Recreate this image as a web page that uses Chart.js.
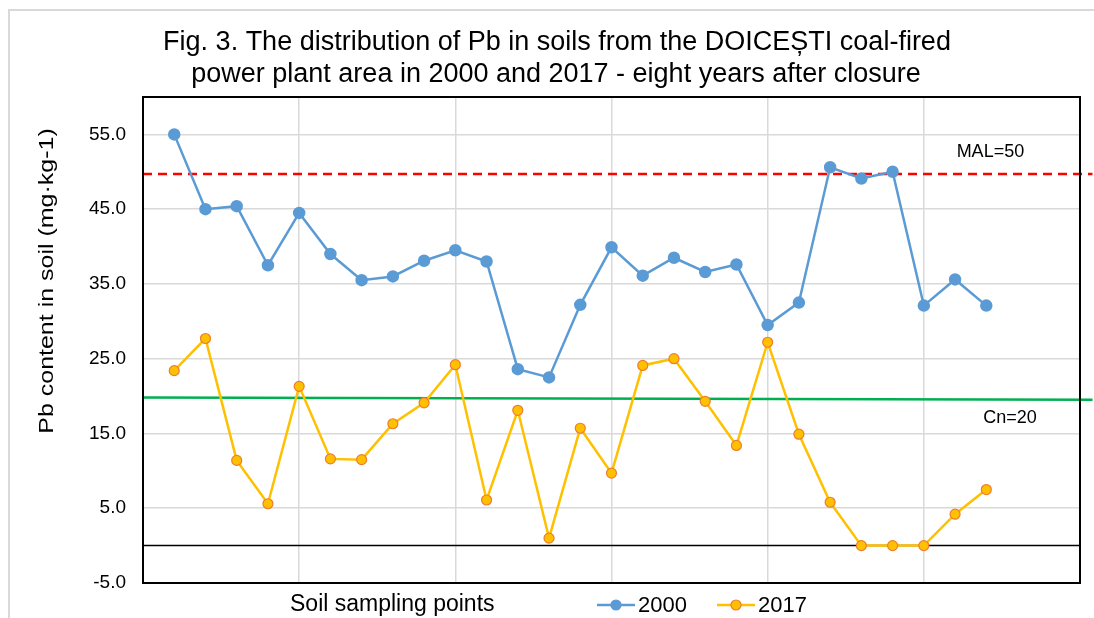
<!DOCTYPE html>
<html>
<head>
<meta charset="utf-8">
<script src="https://cdn.jsdelivr.net/npm/chart.js@4.4.0/dist/chart.umd.min.js"></script>
<style>
  html, body { margin: 0; padding: 0; background: #fff; }
  #wrap { width: 1094px; height: 618px; }
</style>
</head>
<body>
<div id="wrap"><canvas id="pbChart"></canvas></div>
<script>
// sampling points 1..27
const samplePoints = [1, 2, 3, 4, 5, 6, 7, 8, 9, 10, 11, 12, 13, 14, 15, 16, 17, 18, 19, 20, 21, 22, 23, 24, 25, 26, 27];
const pb2000 = [55.0, 45.0, 45.4, 37.5, 44.5, 39.0, 35.5, 36.0, 38.1, 39.5, 38.0, 23.6, 22.5, 32.2, 39.9, 36.1, 38.5, 36.6, 37.6, 29.5, 32.5, 50.6, 49.1, 50.0, 32.1, 35.6, 32.1];
const pb2017 = [23.4, 27.7, 11.4, 5.6, 21.3, 11.6, 11.5, 16.3, 19.1, 24.2, 6.1, 18.1, 1.0, 15.7, 9.7, 24.1, 25.0, 19.3, 13.4, 27.2, 14.9, 5.8, 0.0, 0.0, 0.0, 4.2, 7.5];
const yTicks = [-5, 5, 15, 25, 35, 45, 55];

// reference lines (drawn by hand in the original)
const refX = [0, 30.4];
const malLine = [49.7, 49.7];
const cnLine = [19.8, 19.5];
const zeroLine = [0, 0];

const toXY = (xs, ys) => xs.map((x, i) => ({ x: x, y: ys[i] }));

const FONT = "'Liberation Sans', Arial, sans-serif";

const decorPlugin = {
  id: 'decor',
  afterDraw(chart) {
    const ctx = chart.ctx;
    const area = chart.chartArea;
    const xs = chart.scales.x, ys = chart.scales.y;
    ctx.save();

    // outer frame (cropped on right/bottom)
    ctx.strokeStyle = '#d9d9d9';
    ctx.lineWidth = 2;
    ctx.beginPath();
    ctx.moveTo(9, 618);
    ctx.lineTo(9, 10);
    ctx.lineTo(1094, 10);
    ctx.stroke();

    // plot border
    ctx.strokeStyle = '#000';
    ctx.lineWidth = 2;
    ctx.strokeRect(area.left, area.top, area.right - area.left, area.bottom - area.top);

    // title
    ctx.fillStyle = '#000';
    ctx.textAlign = 'center';
    ctx.textBaseline = 'alphabetic';
    ctx.font = '27px ' + FONT;
    ctx.fillText('Fig. 3. The distribution of Pb in soils from the DOICEȘTI coal-fired', 557, 50);
    ctx.fillText('power plant area in 2000 and 2017 - eight years after closure', 556, 82);

    // y-axis title (stretched along its length like the original)
    ctx.save();
    ctx.translate(47, 281);
    ctx.rotate(-Math.PI / 2);
    ctx.scale(1.19, 1);
    ctx.textBaseline = 'middle';
    ctx.font = '21px ' + FONT;
    ctx.fillText('Pb content in soil (mg·kg-1)', 0, 0);
    ctx.restore();

    // x-axis title
    ctx.textAlign = 'left';
    ctx.textBaseline = 'middle';
    ctx.font = '23px ' + FONT;
    ctx.fillText('Soil sampling points', 290, 605);

    // legend
    const items = [
      { label: '2000', x: 597, line: '#5b9bd5', fill: '#5b9bd5', edge: '#5b9bd5' },
      { label: '2017', x: 717, line: '#ffc000', fill: '#ffc000', edge: '#ed7d31' }
    ];
    items.forEach(it => {
      ctx.strokeStyle = it.line;
      ctx.lineWidth = 2.5;
      ctx.beginPath();
      ctx.moveTo(it.x, 605);
      ctx.lineTo(it.x + 38, 605);
      ctx.stroke();
      ctx.beginPath();
      ctx.arc(it.x + 19, 605, 5, 0, Math.PI * 2);
      ctx.fillStyle = it.fill;
      ctx.fill();
      ctx.lineWidth = 1.2;
      ctx.strokeStyle = it.edge;
      ctx.stroke();
      ctx.fillStyle = '#000';
      ctx.font = '22px ' + FONT;
      ctx.fillText(it.label, it.x + 41, 606);
    });

    // reference labels
    ctx.font = '18px ' + FONT;
    ctx.textAlign = 'left';
    ctx.fillText('MAL=50', xs.getPixelForValue(26.05), ys.getPixelForValue(52.6));
    ctx.fillText('Cn=20', xs.getPixelForValue(26.9), ys.getPixelForValue(17.0));
    ctx.restore();
  }
};

new Chart(document.getElementById('pbChart'), {
  type: 'line',
  data: {
    datasets: [
      {
        label: '2000',
        data: toXY(samplePoints, pb2000),
        borderColor: '#5b9bd5',
        backgroundColor: '#5b9bd5',
        pointBorderColor: '#5b9bd5',
        borderWidth: 2.5,
        pointRadius: 5,
        tension: 0,
        order: 2
      },
      {
        label: '2017',
        data: toXY(samplePoints, pb2017),
        borderColor: '#ffc000',
        backgroundColor: '#ffc000',
        pointBorderColor: '#ed7d31',
        pointBorderWidth: 1.2,
        borderWidth: 2.5,
        pointRadius: 5,
        tension: 0,
        order: 1
      },
      {
        label: 'MAL',
        data: toXY(refX, malLine),
        borderColor: '#ff0000',
        borderWidth: 2.5,
        borderDash: [9, 6],
        pointRadius: 0,
        clip: false,
        order: 3
      },
      {
        label: 'Cn',
        data: toXY(refX, cnLine),
        borderColor: '#00b050',
        borderWidth: 2.5,
        pointRadius: 0,
        clip: false,
        order: 3
      },
      {
        label: 'zero',
        data: toXY([0, 30], zeroLine),
        borderColor: '#000',
        borderWidth: 1.5,
        pointRadius: 0,
        order: 4
      }
    ]
  },
  options: {
    responsive: true,
    maintainAspectRatio: false,
    animation: false,
    layout: { padding: { left: 10, right: 14, top: 97, bottom: 35 } },
    plugins: {
      legend: { display: false },
      title: { display: false },
      tooltip: { enabled: false }
    },
    scales: {
      x: {
        type: 'linear',
        min: 0,
        max: 30,
        ticks: { display: false, stepSize: 5 },
        grid: { color: '#d9d9d9', lineWidth: 1.5, drawTicks: false },
        border: { display: false }
      },
      y: {
        min: -5,
        max: 60,
        afterBuildTicks: scale => { scale.ticks = yTicks.map(v => ({ value: v })); },
        afterFit: scale => { scale.width = 133; },
        ticks: {
          padding: 17,
          color: '#000',
          font: { family: FONT, size: 19 },
          callback: v => v.toFixed(1)
        },
        grid: { color: '#d9d9d9', lineWidth: 1.5, drawTicks: false },
        border: { display: false }
      }
    }
  },
  plugins: [decorPlugin]
});
</script>
</body>
</html>
